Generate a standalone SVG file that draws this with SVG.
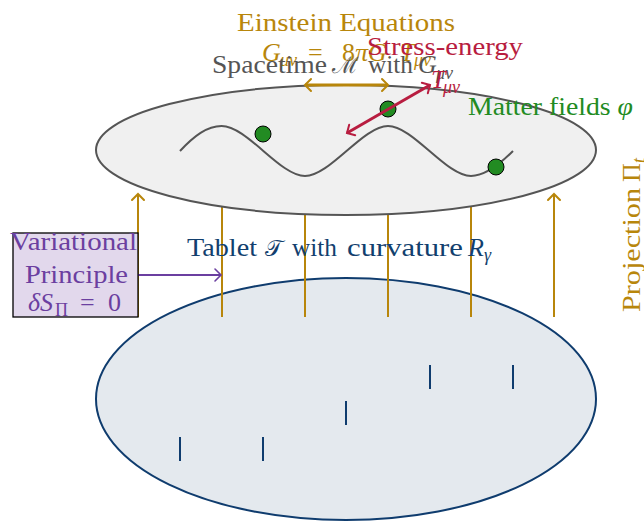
<svg xmlns="http://www.w3.org/2000/svg" width="644" height="524" viewBox="0 0 644 524">
<style>
text{font-family:"Liberation Serif","DejaVu Serif",serif;font-size:26px}
.it{font-style:italic}
.sub{font-size:18px}
.gold{fill:#b8860b}
.red{fill:#b81d40}
.green{fill:#228b22}
.navy{fill:#123f6e}
.gray{fill:#555555}
.purple{fill:#6b3fa0}
.cal{font-family:"DejaVu Serif",serif;font-size:23px}
.proj{stroke:#b8860b;stroke-width:2;fill:none}
</style>
<defs>
<marker id="ahGold" viewBox="-8 -8 10 16" refX="0" refY="0" markerWidth="10" markerHeight="16" markerUnits="userSpaceOnUse" orient="auto-start-reverse">
<path d="M-6,-6 Q-1.5,-1.5 0,0 Q-1.5,1.5 -6,6" fill="none" stroke="#b8860b" stroke-width="2" stroke-linecap="round"/>
</marker>
<marker id="ahRed" viewBox="-8 -8 10 16" refX="0" refY="0" markerWidth="10" markerHeight="16" markerUnits="userSpaceOnUse" orient="auto-start-reverse">
<path d="M-6,-6 Q-1.5,-1.5 0,0 Q-1.5,1.5 -6,6" fill="none" stroke="#b81d40" stroke-width="2" stroke-linecap="round"/>
</marker>
<marker id="ahPurple" viewBox="-8 -8 10 16" refX="0" refY="0" markerWidth="10" markerHeight="16" markerUnits="userSpaceOnUse" orient="auto">
<path d="M-6,-6 Q-1.5,-1.5 0,0 Q-1.5,1.5 -6,6" fill="none" stroke="#6b3fa0" stroke-width="1.6" stroke-linecap="round"/>
</marker>
</defs>

<g id="tablet">
<ellipse cx="346" cy="399" rx="250" ry="121" fill="#e4e9ee" stroke="#0f3c6e" stroke-width="2"/>
<g stroke="#0f3c6e" stroke-width="2">
<line x1="180" y1="437" x2="180" y2="461"/>
<line x1="263" y1="437" x2="263" y2="461"/>
<line x1="346" y1="401" x2="346" y2="425"/>
<line x1="430" y1="365" x2="430" y2="389"/>
<line x1="513" y1="365" x2="513" y2="389"/>
</g>
</g>

<g id="connectors">
<line class="proj" x1="138" y1="317" x2="138" y2="194" marker-end="url(#ahGold)"/>
<line class="proj" x1="222" y1="317" x2="222" y2="194" marker-end="url(#ahGold)"/>
<line class="proj" x1="305" y1="317" x2="305" y2="194" marker-end="url(#ahGold)"/>
<line class="proj" x1="388" y1="317" x2="388" y2="194" marker-end="url(#ahGold)"/>
<line class="proj" x1="471" y1="317" x2="471" y2="194" marker-end="url(#ahGold)"/>
<line class="proj" x1="554" y1="317" x2="554" y2="194" marker-end="url(#ahGold)"/>
</g>

<g id="spacetime">
<ellipse cx="346" cy="150" rx="250" ry="65" fill="#f0f0f0" stroke="#555555" stroke-width="2"/>
<path d="M180,151 C194,136 207,126 221.6,126 C247,126 280,176 305,176 C330,176 363,126 388,126 C413,126 446,176 471,176 C485,176 499,165 513,151" fill="none" stroke="#555555" stroke-width="2"/>
</g>

<g id="matter">
<circle cx="263" cy="134" r="8" fill="#228b22" stroke="#000" stroke-width="1"/>
<circle cx="388" cy="109" r="8" fill="#228b22" stroke="#000" stroke-width="1"/>
<circle cx="496" cy="167" r="8" fill="#228b22" stroke="#000" stroke-width="1"/>
</g>

<g id="arrows">
<line x1="305" y1="85" x2="388" y2="85" stroke="#b8860b" stroke-width="3" marker-start="url(#ahGold)" marker-end="url(#ahGold)"/>
<line x1="347" y1="133" x2="430" y2="85" stroke="#b81d40" stroke-width="3" marker-start="url(#ahRed)" marker-end="url(#ahRed)"/>
<line x1="138" y1="275" x2="221" y2="275" stroke="#6b3fa0" stroke-width="2" marker-end="url(#ahPurple)"/>
</g>

<g id="einstein-label">
<text class="gold" x="237" y="31" textLength="218" lengthAdjust="spacingAndGlyphs">Einstein Equations</text>
<text class="gold"><tspan class="it" x="262" y="61">G</tspan><tspan class="sub it" x="280" y="66">μν</tspan><tspan x="308" y="61">=</tspan><tspan x="342" y="61">8</tspan><tspan class="it" x="355" y="61">πG</tspan><tspan class="it" x="400" y="61">T</tspan><tspan class="sub it" x="414" y="66">μν</tspan></text>
</g>

<g id="spacetime-label">
<text class="gray"><tspan x="212" y="73" textLength="115" lengthAdjust="spacingAndGlyphs">Spacetime</tspan><tspan class="cal" x="332" y="73">ℳ</tspan><tspan x="368" y="73" textLength="45" lengthAdjust="spacingAndGlyphs">with</tspan><tspan class="it" x="418" y="73">G</tspan><tspan class="sub it" x="436" y="79">μν</tspan></text>
</g>

<g id="stress-label">
<text class="red" x="367" y="55" textLength="156" lengthAdjust="spacingAndGlyphs">Stress-energy</text>
<text class="red"><tspan class="it" x="431" y="88">T</tspan><tspan class="sub it" x="443" y="93">μν</tspan></text>
</g>

<g id="matter-label">
<text class="green" x="468" y="115" textLength="165" lengthAdjust="spacingAndGlyphs">Matter fields <tspan class="it">φ</tspan></text>
</g>

<g id="tablet-label">
<text class="navy"><tspan x="187" y="256" textLength="70" lengthAdjust="spacingAndGlyphs">Tablet</tspan><tspan class="cal" x="265" y="256">𝒯</tspan><tspan x="292" y="256" textLength="45" lengthAdjust="spacingAndGlyphs">with</tspan><tspan x="347" y="256" textLength="116" lengthAdjust="spacingAndGlyphs">curvature</tspan><tspan class="it" x="468" y="256">R</tspan><tspan class="sub it" x="484" y="261">γ</tspan></text>
</g>

<g id="projection-label">
<text class="gold" transform="translate(640,312) rotate(-90)"><tspan x="0" y="0" textLength="124" lengthAdjust="spacingAndGlyphs">Projection</tspan><tspan x="130" y="0">Π</tspan><tspan class="sub it" x="149" y="5">t</tspan></text>
</g>

<g id="variational">
<rect x="13" y="233" width="125" height="84" fill="#e2d8ec" stroke="#000" stroke-width="1.3"/>
<text class="purple" x="10" y="250" textLength="127" lengthAdjust="spacingAndGlyphs">Variational</text>
<text class="purple" x="25" y="283" textLength="103" lengthAdjust="spacingAndGlyphs">Principle</text>
<text class="purple"><tspan class="it" x="28" y="311">δS</tspan><tspan class="sub" x="55" y="316">Π</tspan><tspan x="80" y="311">=</tspan><tspan x="108" y="311">0</tspan></text>
</g>
</svg>
